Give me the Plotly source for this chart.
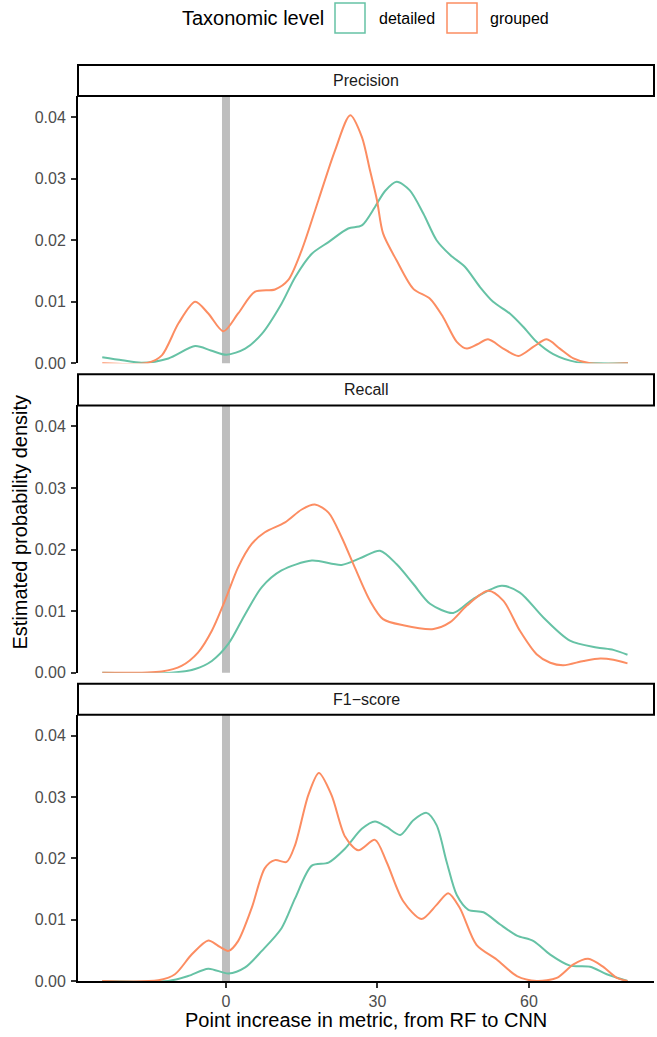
import plotly.graph_objects as go

# ---------------- data ----------------
facet_labels = ["Precision", "Recall", "F1\u2212score"]
group_labels = ["detailed", "grouped"]
x_tick_vals = [0, 30, 60]
y_tick_vals = [0.00, 0.01, 0.02, 0.03, 0.04]
y_tick_text = ["0.00", "0.01", "0.02", "0.03", "0.04"]

prec_det_x = [-24.5, -20.5, -16.7, -11.4, -6.1, -3.0, 0.1, 3.8, 7.1, 11.0, 13.7, 17.0, 20.3, 24.2, 26.9,
              29.5, 31.5, 33.8, 36.4, 39.1, 41.7, 44.4, 47.3, 50.3, 52.9, 56.2, 58.9, 61.5, 64.8, 69.4, 73.4, 79.6]
prec_det_y = [0.0010, 0.0005, 0.0001, 0.0008, 0.0028, 0.0021, 0.0014, 0.0024, 0.0048, 0.0097, 0.0140, 0.0178,
              0.0197, 0.0219, 0.0224, 0.0254, 0.0280, 0.0295, 0.0281, 0.0243, 0.0200, 0.0176, 0.0157, 0.0124,
              0.0100, 0.0081, 0.0059, 0.0035, 0.0015, 0.0002, 0.0, 0.0]

prec_grp_x = [-24.5, -15.4, -12.7, -9.4, -6.1, -3.5, -0.5, 2.4, 5.7, 9.7, 12.3, 15.0, 18.3, 21.6, 24.6, 26.9,
              28.5, 29.9, 31.1, 33.8, 37.1, 40.4, 43.0, 45.7, 47.7, 49.8, 51.9, 54.9, 57.9, 60.9, 63.5, 66.1,
              68.8, 72.1, 79.6]
prec_grp_y = [0.0, 0.0001, 0.0013, 0.0065, 0.0100, 0.0081, 0.0052, 0.0081, 0.0116, 0.0120, 0.0135, 0.0184,
              0.0265, 0.0346, 0.0403, 0.0368, 0.0314, 0.0265, 0.0211, 0.0167, 0.0121, 0.0105, 0.0075, 0.0035,
              0.0024, 0.0031, 0.0039, 0.0024, 0.0012, 0.0027, 0.0039, 0.0024, 0.0008, 0.0, 0.0]

rec_det_x = [-24.5, -10.8, -6.1, -2.8, 0.5, 3.8, 7.1, 11.0, 17.0, 22.9, 26.9, 30.5, 33.8, 37.1, 40.4, 45.0,
             49.0, 54.6, 58.2, 62.8, 68.1, 73.4, 76.7, 79.5]
rec_det_y = [0.0, 0.0, 0.0006, 0.0019, 0.0047, 0.0095, 0.0139, 0.0166, 0.0182, 0.0175, 0.0187, 0.0198,
             0.0176, 0.0144, 0.0112, 0.0097, 0.0120, 0.0141, 0.0130, 0.0090, 0.0052, 0.0041, 0.0037, 0.0029]

rec_grp_x = [-24.5, -12.7, -8.8, -5.5, -2.8, -0.2, 2.4, 5.1, 7.7, 11.7, 15.0, 17.6, 20.3, 22.9, 25.5, 28.5,
             31.1, 35.1, 41.1, 44.4, 47.7, 51.9, 54.9, 58.2, 61.5, 64.2, 66.8, 70.8, 74.1, 76.7, 79.5]
rec_grp_y = [0.0, 0.0002, 0.0011, 0.0033, 0.0068, 0.0117, 0.0171, 0.0209, 0.0228, 0.0244, 0.0265, 0.0273,
             0.0260, 0.0220, 0.0171, 0.0117, 0.0087, 0.0077, 0.0071, 0.0082, 0.0109, 0.0133, 0.0117, 0.0068,
             0.0030, 0.0016, 0.0012, 0.0019, 0.0023, 0.0021, 0.0015]

f1_det_x = [-24.5, -11.4, -7.5, -3.5, 0.5, 3.8, 7.1, 11.0, 13.7, 17.0, 20.3, 23.6, 26.9, 29.5, 31.8, 34.5,
            37.1, 39.7, 41.7, 43.7, 45.7, 48.0, 51.0, 54.3, 57.6, 60.9, 64.2, 68.1, 72.1, 75.4, 79.5]
f1_det_y = [0.0, 0.0, 0.0008, 0.0020, 0.0012, 0.0022, 0.0049, 0.0086, 0.0135, 0.0188, 0.0193, 0.0216,
            0.0248, 0.0260, 0.0251, 0.0238, 0.0262, 0.0274, 0.0254, 0.0194, 0.0140, 0.0116, 0.0112, 0.0092,
            0.0074, 0.0065, 0.0043, 0.0025, 0.0023, 0.0011, 0.0]

f1_grp_x = [-24.5, -13.4, -10.1, -6.8, -3.5, -1.5, 0.5, 2.4, 5.1, 7.7, 9.7, 12.0, 13.7, 16.3, 18.4, 20.9,
            23.6, 26.2, 29.5, 31.8, 35.1, 38.7, 41.7, 44.0, 46.3, 49.6, 53.6, 57.6, 61.5, 65.5, 68.8, 71.7,
            74.7, 77.4, 79.5]
f1_grp_y = [0.0, 0.0001, 0.0011, 0.0043, 0.0066, 0.0057, 0.0049, 0.0065, 0.0119, 0.0184, 0.0197, 0.0194,
            0.0222, 0.0303, 0.0339, 0.0303, 0.0235, 0.0213, 0.0230, 0.0194, 0.0130, 0.0101, 0.0124, 0.0143,
            0.0119, 0.0059, 0.0035, 0.0008, 0.0, 0.0005, 0.0027, 0.0036, 0.0023, 0.0005, 0.0]

series = [
    (prec_det_x, prec_det_y, prec_grp_x, prec_grp_y),
    (rec_det_x, rec_det_y, rec_grp_x, rec_grp_y),
    (f1_det_x, f1_det_y, f1_grp_x, f1_grp_y),
]

# ---------------- styling / layout ----------------
REF_W, REF_H = 657, 1037      # reference image size (positions below are in its pixels)
W, H = 657, 1047              # figure size that fills the browser viewport
GREEN = "#66C2A5"
ORANGE = "#FC8D62"
FONT = "Liberation Sans, Arial, Helvetica, sans-serif"
X_RANGE = [-29.3, 84.75]
Y_RANGE = [0, 0.04341]
PANEL_L, PANEL_R = 78, 654
PANELS = [(96, 363), (405, 672), (714, 980)]
STRIPS = [(65, 96), (374, 405), (683, 714)]


def fx(px):
    return px / REF_W


def fy(py):
    return 1 - py / REF_H


fig = go.Figure()
shapes = []
annotations = []
layout = {}

for i, (dx, dy, gx, gy) in enumerate(series):
    sfx = "" if i == 0 else str(i + 1)
    xa, ya = "x" + sfx, "y" + sfx
    for xs, ys, col, name in ((dx, dy, GREEN, group_labels[0]), (gx, gy, ORANGE, group_labels[1])):
        fig.add_trace(go.Scatter(
            x=xs, y=ys, mode="lines", name=name, showlegend=False,
            line=dict(color=col, width=2, shape="spline", smoothing=0.8),
            xaxis=xa, yaxis=ya, hoverinfo="skip"))
    top, bot = PANELS[i]
    is_bottom = (i == 2)
    layout["xaxis" + sfx] = dict(
        domain=[fx(PANEL_L), fx(PANEL_R)], range=X_RANGE, anchor=ya,
        showgrid=False, zeroline=False, showline=is_bottom, linecolor="black", linewidth=2,
        ticks="outside" if is_bottom else "", tickvals=x_tick_vals, showticklabels=is_bottom,
        ticklen=5, tickwidth=2, tickcolor="#333333",
        tickfont=dict(family=FONT, size=16, color="#4D4D4D"))
    layout["yaxis" + sfx] = dict(
        domain=[fy(bot), fy(top)], range=Y_RANGE, anchor=xa,
        showgrid=False, zeroline=False, showline=True, linecolor="black", linewidth=2,
        ticks="outside", tickvals=y_tick_vals, ticktext=y_tick_text,
        ticklen=5, tickwidth=2, tickcolor="#333333", ticklabelstandoff=2,
        tickfont=dict(family=FONT, size=16, color="#4D4D4D"))
    # reference line at zero
    shapes.append(dict(type="line", xref=xa, yref=ya + " domain", x0=0, x1=0, y0=0, y1=1,
                       line=dict(color="#BEBEBE", width=8), layer="below"))
    # facet strip
    st, sb = STRIPS[i]
    shapes.append(dict(type="rect", xref="paper", yref="paper",
                       x0=fx(PANEL_L), x1=fx(PANEL_R), y0=fy(sb), y1=fy(st),
                       line=dict(color="black", width=2), fillcolor="white", layer="above"))
    annotations.append(dict(text=facet_labels[i], xref="paper", yref="paper",
                            x=fx((PANEL_L + PANEL_R) / 2), y=fy((st + sb) / 2),
                            xanchor="center", yanchor="middle", showarrow=False,
                            font=dict(family=FONT, size=16, color="#1A1A1A")))

# axis titles
annotations.append(dict(text="Point increase in metric, from RF to CNN", xref="paper", yref="paper",
                        x=fx((PANEL_L + PANEL_R) / 2), y=fy(1019), xanchor="center", yanchor="middle",
                        showarrow=False, font=dict(family=FONT, size=20, color="black")))
annotations.append(dict(text="Estimated probability density", xref="paper", yref="paper",
                        x=fx(20), y=fy(522), xanchor="center", yanchor="middle", textangle=-90,
                        showarrow=False, font=dict(family=FONT, size=20, color="black")))

# legend (drawn manually to mimic ggplot key boxes)
annotations.append(dict(text="Taxonomic level", xref="paper", yref="paper", x=fx(180), y=fy(18),
                        xanchor="left", yanchor="middle", showarrow=False,
                        font=dict(family=FONT, size=20, color="black")))
for (k0, lbl_x), col, lbl in (((335, 377), GREEN, group_labels[0]), ((447, 488), ORANGE, group_labels[1])):
    shapes.append(dict(type="rect", xref="paper", yref="paper", x0=fx(k0), x1=fx(k0 + 30),
                       y0=fy(33), y1=fy(3), line=dict(color=col, width=1.5), fillcolor="rgba(0,0,0,0)"))
    annotations.append(dict(text=lbl, xref="paper", yref="paper", x=fx(lbl_x), y=fy(18),
                            xanchor="left", yanchor="middle", showarrow=False,
                            font=dict(family=FONT, size=16, color="black")))

fig.update_layout(
    width=W, height=H, margin=dict(l=0, r=0, t=0, b=0),
    paper_bgcolor="white", plot_bgcolor="white",
    shapes=shapes, annotations=annotations, showlegend=False,
    **layout)

# remove the browser's default 8px page margin so the figure fills the viewport exactly
fig.write_html("out.html", config={"displayModeBar": False, "staticPlot": True},
               post_script="document.body.style.margin='0';document.body.style.overflow='hidden';")
